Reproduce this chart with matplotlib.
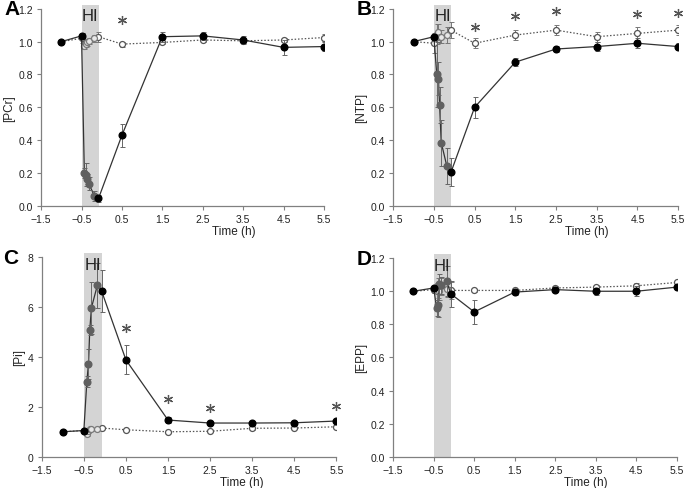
import numpy as np
import matplotlib.pyplot as plt
from matplotlib.ticker import FormatStrFormatter

plt.rcParams['font.family'] = ['Liberation Sans', 'DejaVu Sans']

# time points (h): baseline, start HI, samples during HI, end HI, recovery
time = [-1.0, -0.5, -0.43, -0.39, -0.36, -0.32, -0.18, -0.08, 0.5, 1.5, 2.5, 3.5, 4.5, 5.5]
hi_start, hi_end = -0.5, -0.07
during_hi = [2, 3, 4, 5, 6]  # indices drawn in gray

pcr_hi = [1.0, 1.035, 0.2, 0.19, 0.165, 0.135, 0.06, 0.045, 0.43, 1.03, 1.035, 1.01, 0.965, 0.97]
pcr_hi_err = [0.005, 0.015, 0.03, 0.07, 0.03, 0.04, 0.03, 0.02, 0.07, 0.03, 0.025, 0.025, 0.045, 0.03]
pcr_ctl = [1.0, 1.02, 0.975, 0.985, 0.995, 1.005, 1.02, 1.03, 0.985, 0.995, 1.01, 1.005, 1.01, 1.025]
pcr_ctl_err = [0.005, 0.03, 0.02, 0.02, 0.02, 0.02, 0.02, 0.03, 0.015, 0.01, 0.015, 0.015, 0.015, 0.02]

ntp_hi = [1.0, 1.03, 0.8, 0.775, 0.615, 0.385, 0.24, 0.205, 0.6, 0.875, 0.955, 0.97, 0.99, 0.97]
ntp_hi_err = [0.01, 0.015, 0.2, 0.1, 0.11, 0.14, 0.11, 0.085, 0.065, 0.025, 0.02, 0.025, 0.03, 0.02]
ntp_ctl = [1.0, 0.99, 1.045, 1.06, 1.03, 1.03, 1.04, 1.07, 0.99, 1.04, 1.07, 1.03, 1.05, 1.07]
ntp_ctl_err = [0.005, 0.06, 0.06, 0.05, 0.04, 0.04, 0.05, 0.05, 0.03, 0.03, 0.03, 0.03, 0.04, 0.03]

pi_hi = [1.0, 1.05, 3.0, 3.72, 5.08, 5.97, 6.87, 6.65, 3.88, 1.47, 1.35, 1.35, 1.36, 1.43]
pi_hi_err = [0.03, 0.05, 0.22, 0.6, 0.2, 1.05, 0.9, 0.85, 0.58, 0.12, 0.08, 0.08, 0.08, 0.1]
pi_ctl = [1.0, 1.05, 0.9, 1.05, 1.1, 1.1, 1.12, 1.15, 1.08, 1.0, 1.02, 1.14, 1.15, 1.2]
pi_ctl_err = [0.03, 0.05, 0.05, 0.1, 0.08, 0.05, 0.05, 0.05, 0.05, 0.04, 0.04, 0.05, 0.05, 0.05]

epp_hi = [1.0, 1.02, 0.9, 0.915, 1.045, 1.035, 1.06, 0.985, 0.875, 0.995, 1.01, 1.0, 1.0, 1.025]
epp_hi_err = [0.005, 0.01, 0.05, 0.07, 0.06, 0.05, 0.09, 0.08, 0.07, 0.015, 0.015, 0.02, 0.03, 0.015]
epp_ctl = [1.0, 1.01, 1.0, 1.02, 1.0, 1.03, 1.015, 1.005, 1.005, 1.005, 1.02, 1.025, 1.033, 1.053]
epp_ctl_err = [0.005, 0.02, 0.05, 0.06, 0.05, 0.05, 0.05, 0.05, 0.01, 0.01, 0.01, 0.01, 0.015, 0.015]

# significance stars (x, y)
stars_a = ([0.5], [1.13])
stars_b = ([0.5, 1.5, 2.5, 4.5, 5.5], [1.09, 1.155, 1.185, 1.17, 1.175])
stars_c = ([0.5, 1.5, 2.5, 5.5], [5.15, 2.3, 1.94, 2.05])
stars_d = ([], [])

xticks = [-1.5, -0.5, 0.5, 1.5, 2.5, 3.5, 4.5, 5.5]

AX_GRAY = '#808080'
TXT = '#222222'


def draw_panel(ax, letter, ylabel, hi, hi_err, ctl, ctl_err, stars, ymax, ystep, fmt):
    t = np.array(time)
    hi = np.array(hi)
    ctl = np.array(ctl)
    idx = np.arange(len(t))
    gray = np.isin(idx, during_hi)

    span = ax.axvspan(hi_start, hi_end, ymin=0, ymax=1.02, color='#d4d4d4', lw=0, zorder=0)
    span.set_clip_on(False)

    # control
    ax.plot(t, ctl, ls=(0, (1.2, 1.5)), color='#555555', lw=0.9, zorder=2)
    ax.errorbar(t, ctl, yerr=ctl_err, fmt='none', ecolor='#777777', elinewidth=0.7,
                capsize=1.8, capthick=0.7, zorder=3)
    ax.plot(t[~gray], ctl[~gray], 'o', ms=4.3, mfc='white', mec='#555555', mew=0.9, zorder=4)
    ax.plot(t[gray], ctl[gray], 'o', ms=4.3, mfc='#e8e8e8', mec='#7a7a7a', mew=0.9, zorder=4)

    # hypoxia-ischemia
    ax.plot(t, hi, '-', color='#333333', lw=0.9, zorder=5)
    ax.errorbar(t, hi, yerr=hi_err, fmt='none', ecolor='#666666', elinewidth=0.7,
                capsize=1.8, capthick=0.7, zorder=6)
    ax.plot(t[gray], hi[gray], 'o', ms=4.8, color='#606060', zorder=7)
    ax.plot(t[~gray], hi[~gray], 'o', ms=4.8, color='black', zorder=8)

    ax.plot(stars[0], stars[1], ls='none', marker=(6, 2, 0), ms=6.5, mew=0.9,
            color='#555555', zorder=9, clip_on=False)

    ax.text((hi_start + hi_end) / 2, ymax * 0.965, 'HI', ha='center', va='center',
            fontsize=12, color=TXT, zorder=9)

    ax.set_xlim(-1.5, 5.5)
    ax.set_ylim(0, ymax)
    ax.set_xticks(xticks)
    ax.set_yticks(np.arange(0, ymax + ystep / 2, ystep))
    ax.yaxis.set_major_formatter(FormatStrFormatter(fmt))
    for s in ['top', 'right']:
        ax.spines[s].set_visible(False)
    for s in ['left', 'bottom']:
        ax.spines[s].set_color(AX_GRAY)
        ax.spines[s].set_linewidth(0.9)
    ax.tick_params(direction='out', length=3, width=0.8, color=AX_GRAY,
                   labelsize=7.5, labelcolor=TXT, pad=3)
    ax.set_ylabel(ylabel, fontsize=8.5, color=TXT, labelpad=2)
    ax.set_xlabel('Time (h)', fontsize=8.5, color=TXT)
    ax.xaxis.set_label_coords(0.68, -0.095)
    ax.text(-0.13, 1.0, letter, transform=ax.transAxes, fontsize=15, fontweight='bold',
            color='black', ha='left', va='center')


fig = plt.figure(figsize=(6.85, 4.89), dpi=100)
ax_a = fig.add_axes([0.060, 0.577, 0.413, 0.403])
ax_b = fig.add_axes([0.574, 0.577, 0.416, 0.403])
ax_c = fig.add_axes([0.061, 0.064, 0.430, 0.408])
ax_d = fig.add_axes([0.574, 0.064, 0.414, 0.406])

draw_panel(ax_a, 'A', '[PCr]', pcr_hi, pcr_hi_err, pcr_ctl, pcr_ctl_err, stars_a, 1.2, 0.2, '%.1f')
draw_panel(ax_b, 'B', '[NTP]', ntp_hi, ntp_hi_err, ntp_ctl, ntp_ctl_err, stars_b, 1.2, 0.2, '%.1f')
draw_panel(ax_c, 'C', '[Pi]', pi_hi, pi_hi_err, pi_ctl, pi_ctl_err, stars_c, 8, 2, '%d')
draw_panel(ax_d, 'D', '[EPP]', epp_hi, epp_hi_err, epp_ctl, epp_ctl_err, stars_d, 1.2, 0.2, '%.1f')

fig.savefig('out.png', dpi=100)
